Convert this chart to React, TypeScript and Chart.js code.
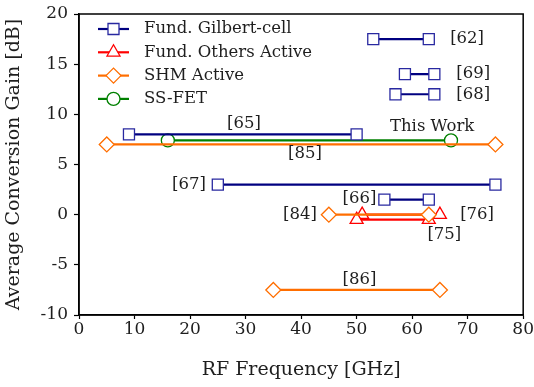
import React, { useEffect, useRef } from "react";
import { Chart, registerables } from "chart.js";
Chart.register(...registerables);

// ---- data ----
const gilbertRefs = ["[62]", "[69]", "[68]", "[65]", "[67]", "[66]"];
const gilbertStart = [53, 58.7, 57, 9, 25, 55];
const gilbertEnd = [63, 64, 64, 50, 75, 63];
const gilbertGain = [17.5, 14, 12, 8, 3, 1.5];

const othersRefs = ["[75]", "[76]"];
const othersStart = [50, 51];
const othersEnd = [63, 65];
const othersGain = [-0.5, 0];

const shmRefs = ["[85]", "[84]", "[86]"];
const shmStart = [5, 45, 35];
const shmEnd = [75, 63, 65];
const shmGain = [7, 0, -7.5];

const fetRefs = ["This Work"];
const fetStart = [16];
const fetEnd = [67];
const fetGain = [7.4];

const annText = ["[62]", "[69]", "[68]", "[65]", "This Work", "[85]", "[67]", "[66]", "[84]", "[76]", "[75]", "[86]"];
const annX = [69.9, 71, 71, 29.7, 63.6, 40.7, 19.8, 50.5, 39.8, 71.7, 65.8, 50.5];
const annY = [17.5, 14, 12, 9.1, 8.8, 6.1, 3, 1.6, 0, 0, -2, -6.5];

const xTicks = [0, 10, 20, 30, 40, 50, 60, 70, 80];
const yTicks = [-10, -5, 0, 5, 10, 15, 20];

const seriesNames = ["Fund. Gilbert-cell", "Fund. Others Active", "SHM Active", "SS-FET"];

const FONT = "'DejaVu Serif', 'Liberation Serif', serif";
const TEXT = "#1e1e1e";

const styles = [
  { line: "rgb(0,0,128)", mark: "rgb(40,40,160)", shape: "rect", r: 7.8 },
  { line: "rgb(255,0,0)", mark: "rgb(255,0,0)", shape: "triangle", r: 7.5 },
  { line: "rgb(255,110,0)", mark: "rgb(255,110,0)", shape: "rectRot", r: 7.5 },
  { line: "rgb(0,128,0)", mark: "rgb(0,128,0)", shape: "circle", r: 6.5 },
];

function segs(starts: number[], ends: number[], gains: number[], si: number) {
  const s = styles[si];
  return starts.map((x0, i) => ({
    label: seriesNames[si],
    data: [
      { x: x0, y: gains[i] },
      { x: ends[i], y: gains[i] },
    ],
    borderColor: s.line,
    borderWidth: 2.2,
    pointStyle: s.shape,
    pointRadius: s.r,
    pointBorderColor: s.mark,
    pointBackgroundColor: "#ffffff",
    pointBorderWidth: 1.3,
    showLine: true,
  }));
}

const overlay = {
  id: "overlay",
  afterDatasetsDraw(chart: any) {
    const { ctx, chartArea, scales } = chart;
    ctx.save();
    // frame
    ctx.strokeStyle = "#000";
    ctx.lineWidth = 1.5;
    ctx.strokeRect(chartArea.left, chartArea.top, chartArea.right - chartArea.left, chartArea.bottom - chartArea.top);
    // annotations
    ctx.fillStyle = TEXT;
    ctx.font = `16.5px ${FONT}`;
    ctx.textAlign = "center";
    ctx.textBaseline = "middle";
    annText.forEach((t, i) => {
      ctx.fillText(t, scales.x.getPixelForValue(annX[i]), scales.y.getPixelForValue(annY[i]));
    });
    // legend
    const lx = chartArea.left + 19;
    const ly = chartArea.top + 15;
    seriesNames.forEach((n, i) => {
      const s = styles[i];
      const y = ly + i * 23.3;
      ctx.strokeStyle = s.line;
      ctx.lineWidth = 2.2;
      ctx.beginPath();
      ctx.moveTo(lx, y);
      ctx.lineTo(lx + 31, y);
      ctx.stroke();
      ctx.fillStyle = "#fff";
      ctx.strokeStyle = s.mark;
      ctx.lineWidth = 1.3;
      const cx = lx + 15.5;
      ctx.beginPath();
      if (s.shape === "rect") {
        const h = 5.5;
        ctx.rect(cx - h, y - h, 2 * h, 2 * h);
      } else if (s.shape === "rectRot") {
        const r = 7.5;
        ctx.moveTo(cx - r, y);
        ctx.lineTo(cx, y - r);
        ctx.lineTo(cx + r, y);
        ctx.lineTo(cx, y + r);
        ctx.closePath();
      } else if (s.shape === "triangle") {
        const r = 7.5;
        ctx.moveTo(cx, y - r);
        ctx.lineTo(cx + r * 0.866, y + r * 0.5);
        ctx.lineTo(cx - r * 0.866, y + r * 0.5);
        ctx.closePath();
      } else {
        ctx.arc(cx, y, 6.5, 0, Math.PI * 2);
      }
      ctx.fill();
      ctx.stroke();
      ctx.fillStyle = TEXT;
      ctx.font = `16.5px ${FONT}`;
      ctx.textAlign = "left";
      ctx.textBaseline = "middle";
      ctx.fillText(n, lx + 46, y);
    });
    ctx.restore();
  },
};

export default function App() {
  const ref = useRef<HTMLCanvasElement>(null);
  useEffect(() => {
    if (!ref.current) return;
    const datasets = [
      ...segs(shmStart, shmEnd, shmGain, 2),
      ...segs(gilbertStart, gilbertEnd, gilbertGain, 0),
      ...segs(othersStart, othersEnd, othersGain, 1),
      ...segs(fetStart, fetEnd, fetGain, 3),
    ];
    const chart = new Chart(ref.current, {
      type: "scatter",
      data: { datasets },
      options: {
        animation: false,
        responsive: true,
        maintainAspectRatio: false,
        layout: { autoPadding: false, padding: { top: 14, right: 8.5, left: 0, bottom: 0 } },
        plugins: { legend: { display: false }, tooltip: { enabled: false } },
        scales: {
          x: {
            type: "linear",
            min: 0,
            max: 80,
            afterBuildTicks: (s: any) => {
              s.ticks = xTicks.map((v) => ({ value: v }));
            },
            afterFit: (s: any) => {
              s.height = 72;
            },
            grid: { drawOnChartArea: false, tickLength: 4, color: "#000", tickWidth: 1.2 },
            border: { color: "#000", width: 1.5 },
            ticks: { color: TEXT, font: { family: FONT, size: 17 }, padding: 0, maxRotation: 0 },
            title: { display: true, text: "RF Frequency [GHz]", color: TEXT, font: { family: FONT, size: 19 }, padding: { bottom: 6, top: 0 } },
          },
          y: {
            type: "linear",
            min: -10,
            max: 20,
            afterBuildTicks: (s: any) => {
              s.ticks = yTicks.map((v) => ({ value: v }));
            },
            afterFit: (s: any) => {
              s.width = 79;
            },
            grid: { drawOnChartArea: false, tickLength: 5, color: "#000", tickWidth: 1.2 },
            border: { color: "#000", width: 1.5 },
            ticks: { color: TEXT, font: { family: FONT, size: 17, lineHeight: 0.9 }, padding: 6 },
            title: { display: true, text: "Average Conversion Gain [dB]", color: TEXT, font: { family: FONT, size: 19 }, padding: { top: 3, bottom: 0 } },
          },
        },
      },
      plugins: [overlay],
    });
    return () => chart.destroy();
  }, []);
  return (
    <div style={{ position: "fixed", left: 0, top: 0, width: 534, height: 387, background: "#fff" }}>
      <canvas ref={ref} />
    </div>
  );
}
